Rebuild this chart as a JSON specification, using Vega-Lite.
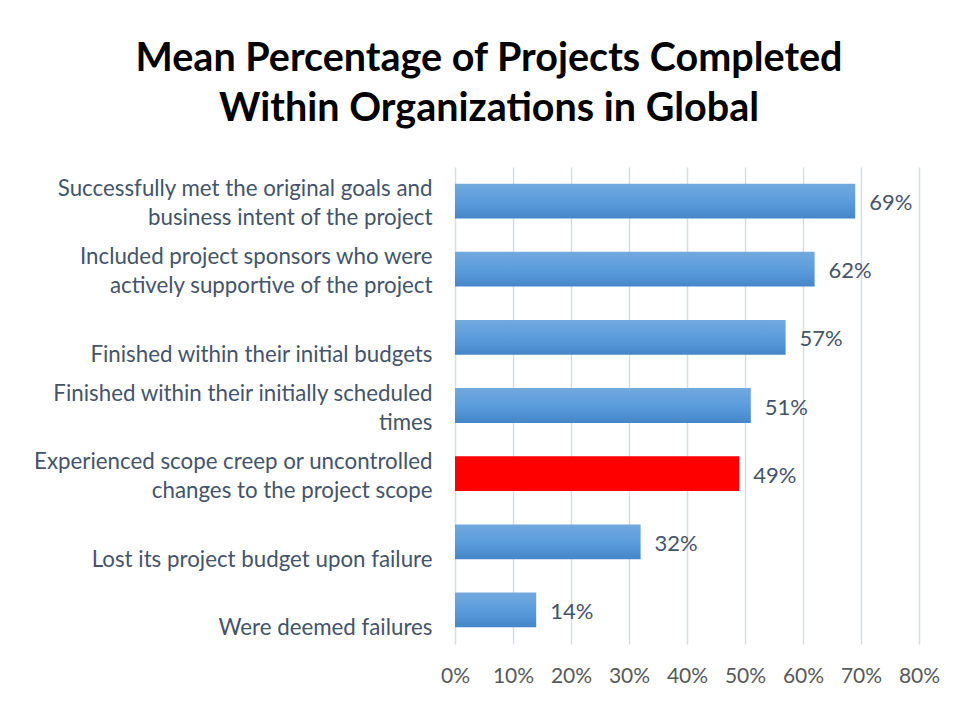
{
  "$schema": "https://vega.github.io/schema/vega-lite/v6.json",
  "autosize": {"type": "none"},
  "width": 464,
  "height": 477,
  "padding": {"left": 455, "top": 167, "right": 40, "bottom": 58},
  "background": "white",
  "title": {
    "text": ["Mean Percentage of Projects Completed", "Within Organizations in Global"],
    "font": "Lato",
    "fontSize": 39.5,
    "fontWeight": "bold",
    "color": "#000000",
    "anchor": "middle",
    "dx": -198,
    "lineHeight": 50,
    "offset": 38
  },
  "data": {
    "values": [
      {"label": "Successfully met the original goals and|business intent of the project", "value": 0.69, "highlight": false},
      {"label": "Included project sponsors who were|actively supportive of the project", "value": 0.62, "highlight": false},
      {"label": "Finished within their initial budgets", "value": 0.57, "highlight": false},
      {"label": "Finished within their initially scheduled|times", "value": 0.51, "highlight": false},
      {"label": "Experienced scope creep or uncontrolled|changes to the project scope", "value": 0.49, "highlight": true},
      {"label": "Lost its project budget upon failure", "value": 0.32, "highlight": false},
      {"label": "Were deemed failures", "value": 0.14, "highlight": false}
    ]
  },
  "encoding": {
    "y": {
      "field": "label",
      "type": "nominal",
      "sort": null,
      "scale": {"paddingInner": 0.49, "paddingOuter": 0.245},
      "axis": {
        "title": null,
        "labelExpr": "split(datum.value, '|')",
        "labelFont": "Lato",
        "labelFontSize": 22.3,
        "labelColor": "#44546A",
        "labelLineHeight": 29,
        "labelBaseline": "bottom",
        "labelOffset": {"condition": {"test": "indexof(datum.value, '|') >= 0", "value": 0}, "value": 30},
        "labelLimit": 500,
        "labelPadding": 23,
        "ticks": false,
        "domain": false,
        "grid": false
      }
    },
    "x": {
      "field": "value",
      "type": "quantitative",
      "scale": {"domain": [0, 0.8], "nice": false},
      "axis": {
        "title": null,
        "format": ".0%",
        "values": [0, 0.1, 0.2, 0.3, 0.4, 0.5, 0.6, 0.7, 0.8],
        "labelFont": "Lato",
        "labelFontSize": 21,
        "labelColor": "#595959",
        "labelPadding": 21,
        "labelFlush": false,
        "labelOverlap": false,
        "ticks": false,
        "domain": false,
        "grid": true,
        "gridColor": "#D9DDE3",
        "gridWidth": 1.5
      }
    }
  },
  "layer": [
    {
      "mark": {"type": "bar"},
      "encoding": {
        "color": {
          "condition": {"test": "datum.highlight", "value": "#FF0000"},
          "value": {
            "gradient": "linear",
            "x1": 0, "y1": 0, "x2": 0, "y2": 1,
            "stops": [
              {"offset": 0, "color": "#72A9DE"},
              {"offset": 0.5, "color": "#5B9DDC"},
              {"offset": 1, "color": "#4486C8"}
            ]
          }
        }
      }
    },
    {
      "mark": {"type": "text", "align": "left", "dx": 14, "dy": 2, "font": "Lato", "fontSize": 22, "color": "#44546A"},
      "encoding": {
        "text": {"field": "value", "type": "quantitative", "format": ".0%"}
      }
    }
  ],
  "config": {"view": {"stroke": null}}
}
